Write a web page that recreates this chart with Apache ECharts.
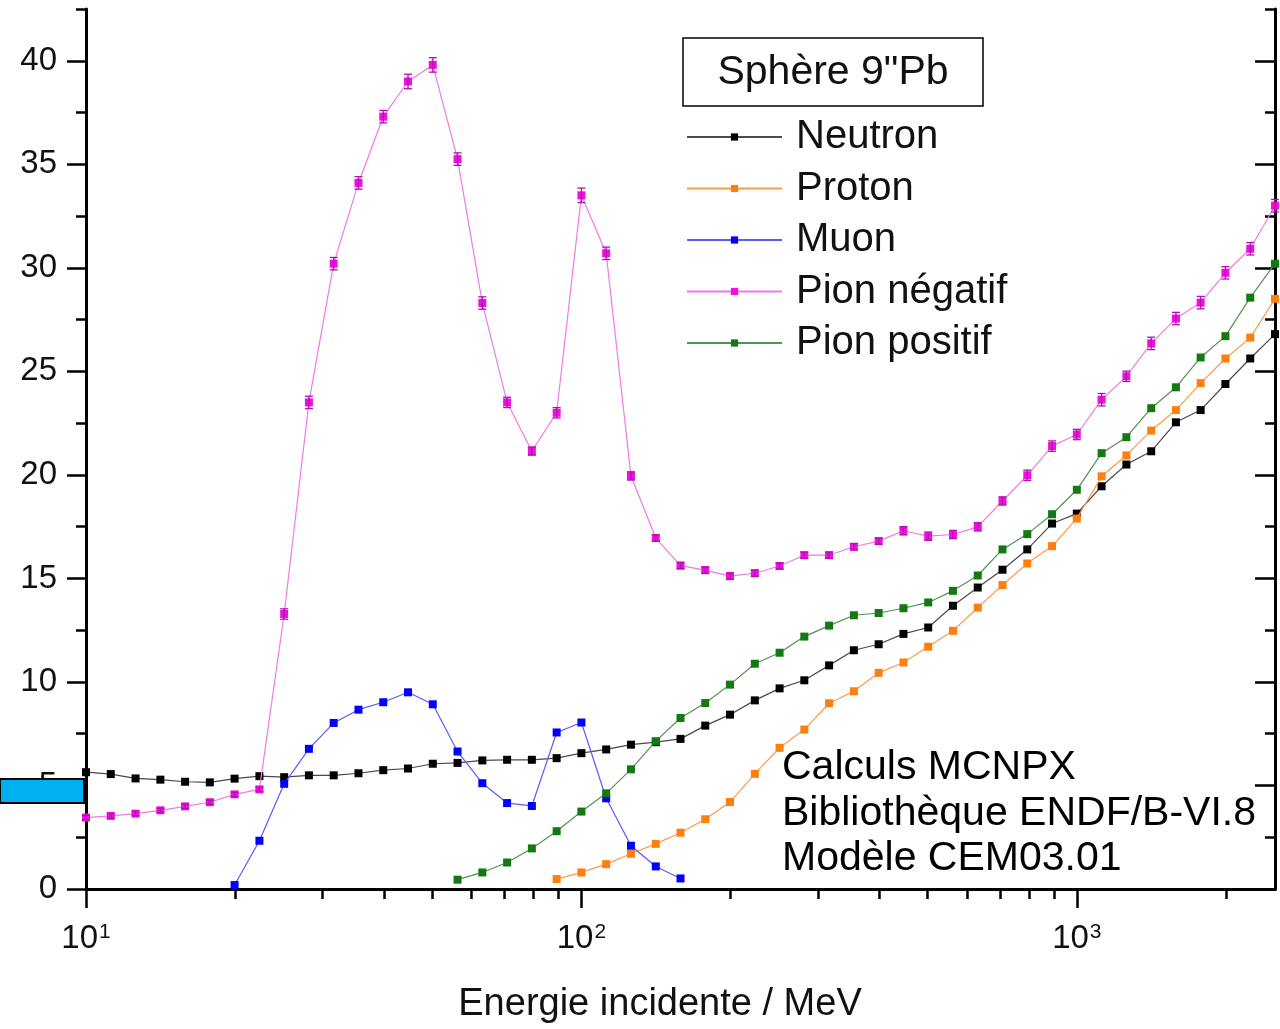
<!DOCTYPE html>
<html><head><meta charset="utf-8">
<script src="https://cdn.jsdelivr.net/npm/echarts@6/dist/echarts.min.js"></script>
<style>html,body{margin:0;padding:0;background:#fff}#c{width:1280px;height:1029px}</style>
</head><body><div id="c"></div>
<script>
// Incident energies (MeV), 20 points per decade
const energies = [10, 11.22, 12.59, 14.13, 15.85, 17.78, 19.95, 22.39, 25.12, 28.18,
  31.62, 35.48, 39.81, 44.67, 50.12, 56.23, 63.10, 70.79, 79.43, 89.13,
  100, 112.2, 125.9, 141.3, 158.5, 177.8, 199.5, 223.9, 251.2, 281.8,
  316.2, 354.8, 398.1, 446.7, 501.2, 562.3, 631.0, 707.9, 794.3, 891.3,
  1000, 1122, 1259, 1413, 1585, 1778, 1995, 2239, 2512];

const neutron = [5.64, 5.55, 5.34, 5.28, 5.18, 5.15, 5.33, 5.45, 5.40, 5.49,
  5.49, 5.59, 5.74, 5.82, 6.05, 6.09, 6.21, 6.24, 6.24, 6.32,
  6.56, 6.74, 6.97, 7.09, 7.25, 7.89, 8.42, 9.11, 9.69, 10.08,
  10.80, 11.53, 11.82, 12.32, 12.63, 13.68, 14.56, 15.42, 16.40, 17.65,
  18.13, 19.45, 20.50, 21.14, 22.54, 23.13, 24.39, 25.62, 26.80];

const proton = [null, null, null, null, null, null, null, null, null, null,
  null, null, null, null, null, null, null, null, null, 0.48,
  0.80, 1.20, 1.70, 2.18, 2.72, 3.37, 4.20, 5.56, 6.82, 7.70,
  8.97, 9.55, 10.44, 10.94, 11.70, 12.47, 13.59, 14.68, 15.72, 16.56,
  17.89, 19.93, 20.94, 22.14, 23.13, 24.43, 25.62, 26.63, 28.50];

const muon = [null, null, null, null, null, null, 0.19, 2.33, 5.08, 6.77,
  8.02, 8.66, 9.02, 9.50, 8.92, 6.64, 5.11, 4.15, 4.01, 7.56,
  8.04, 4.38, 2.09, 1.09, 0.51, null, null, null, null, null,
  null, null, null, null, null, null, null, null, null, null,
  null, null, null, null, null, null, null, null, null];

const pionNeg = [3.45, 3.53, 3.64, 3.80, 3.99, 4.19, 4.57, 4.81, 13.28, 23.50,
  30.20, 34.10, 37.30, 39.00, 39.80, 35.25, 28.30, 23.50, 21.15, 23.00,
  33.50, 30.70, 19.95, 16.95, 15.62, 15.40, 15.11, 15.25, 15.60, 16.12,
  16.12, 16.53, 16.80, 17.30, 17.04, 17.12, 17.49, 18.74, 19.98, 21.39,
  21.95, 23.63, 24.76, 26.35, 27.55, 28.32, 29.76, 30.92, 33.00];

const pionNegErr = [0.1, 0.1, 0.1, 0.1, 0.1, 0.1, 0.1, 0.1, 0.25, 0.3,
  0.3, 0.3, 0.3, 0.35, 0.35, 0.3, 0.3, 0.25, 0.2, 0.25,
  0.35, 0.3, 0.2, 0.15, 0.15, 0.15, 0.15, 0.15, 0.15, 0.15,
  0.15, 0.15, 0.15, 0.2, 0.2, 0.2, 0.2, 0.2, 0.25, 0.25,
  0.25, 0.3, 0.25, 0.3, 0.3, 0.3, 0.3, 0.3, 0.3];

const pionPos = [null, null, null, null, null, null, null, null, null, null,
  null, null, null, null, null, 0.45, 0.80, 1.28, 1.96, 2.79,
  3.74, 4.62, 5.78, 7.14, 8.26, 8.98, 9.87, 10.88, 11.41, 12.19,
  12.72, 13.22, 13.33, 13.56, 13.84, 14.40, 15.14, 16.40, 17.14, 18.10,
  19.28, 21.05, 21.82, 23.22, 24.23, 25.67, 26.70, 28.56, 30.20];

const seriesNames = ['Neutron', 'Proton', 'Muon', 'Pion négatif', 'Pion positif'];
const xMajorTicks = [10, 100, 1000];
const xMinorTicks = [20, 30, 40, 50, 60, 70, 80, 90, 200, 300, 400, 500, 600, 700, 800, 900, 2000];
const yMajorTicks = [0, 5, 10, 15, 20, 25, 30, 35, 40];
const yMinorTicks = [2.5, 7.5, 12.5, 17.5, 22.5, 27.5, 32.5, 37.5, 42.5];
const legendTitle = 'Sphère 9"Pb';
const noteLines = ['Calculs MCNPX', 'Bibliothèque ENDF/B-VI.8', 'Modèle CEM03.01'];
const xName = 'Energie incidente / MeV';

const FONT = 'Liberation Sans, Arial, Helvetica, sans-serif';
function pairs(arr) {
  const out = [];
  arr.forEach((v, i) => { if (v != null) out.push([energies[i], v]); });
  return out;
}

const styles = [
  { marker: '#000000', line: '#4a4a4a' },
  { marker: '#ff7f0e', line: '#ff9a4d' },
  { marker: '#0000ff', line: '#5a5aff' },
  { marker: '#ee11dd', line: '#f07ae8' },
  { marker: '#137a13', line: '#4f944f' }
];
const dataSets = [neutron, proton, muon, pionNeg, pionPos];

const X_MIN = 10, X_MAX = 2512, Y_MIN = 0, Y_MAX = 42.5;
const lineAx = { show: true, lineStyle: { color: '#000', width: 3 } };

function xAxisBase(pos) {
  return { type: 'log', logBase: 10, min: X_MIN, max: X_MAX, position: pos,
    splitLine: { show: false }, axisLabel: { show: false }, axisLine: { show: false },
    axisTick: { show: false } };
}
function yAxisBase(pos) {
  return { type: 'value', min: Y_MIN, max: Y_MAX, position: pos,
    splitLine: { show: false }, axisLabel: { show: false }, axisLine: { show: false },
    axisTick: { show: false } };
}

const xAxes = [
  Object.assign(xAxisBase('bottom'), {
    axisLine: lineAx,
    axisTick: { show: true, customValues: xMajorTicks, length: 19, inside: false, lineStyle: { color: '#000', width: 2.5 } },
    axisLabel: { show: true, customValues: xMajorTicks, margin: 33,
      formatter: v => '{b|10}{s|' + Math.round(Math.log10(v)) + '}',
      rich: { b: { fontSize: 33, fontFamily: FONT, color: '#111', lineHeight: 34, verticalAlign: 'top' },
              s: { fontSize: 21, fontFamily: FONT, color: '#111', lineHeight: 34, verticalAlign: 'top', padding: [0, 0, 0, 1] } } },
    name: xName, nameLocation: 'middle', nameGap: 97,
    nameTextStyle: { fontSize: 38, fontFamily: FONT, color: '#111', padding: [0, 41, 0, 0] }
  }),
  Object.assign(xAxisBase('bottom'), {
    axisTick: { show: true, customValues: xMinorTicks, length: 10, inside: false, lineStyle: { color: '#000', width: 2.5 } }
  }),
  Object.assign(xAxisBase('top'), {
    axisLine: lineAx,
    axisTick: { show: true, customValues: [100, 1000], length: 16, inside: true, lineStyle: { color: '#000', width: 2.5 } }
  }),
  Object.assign(xAxisBase('top'), {
    axisTick: { show: true, customValues: xMinorTicks, length: 8, inside: true, lineStyle: { color: '#000', width: 2.5 } }
  })
];

const yAxes = [
  Object.assign(yAxisBase('left'), {
    axisLine: lineAx,
    axisTick: { show: true, customValues: yMajorTicks, length: 19, inside: false, lineStyle: { color: '#000', width: 2.5 } },
    axisLabel: { show: true, customValues: yMajorTicks, margin: 29, fontSize: 33, fontFamily: FONT, color: '#111' }
  }),
  Object.assign(yAxisBase('left'), {
    axisTick: { show: true, customValues: yMinorTicks, length: 10, inside: false, lineStyle: { color: '#000', width: 2.5 } }
  }),
  Object.assign(yAxisBase('right'), {
    axisLine: lineAx,
    axisTick: { show: true, customValues: yMajorTicks, length: 20, inside: true, lineStyle: { color: '#000', width: 2.5 } }
  }),
  Object.assign(yAxisBase('right'), {
    axisTick: { show: true, customValues: yMinorTicks, length: 10, inside: true, lineStyle: { color: '#000', width: 2.5 } }
  })
];

const series = seriesNames.map((name, k) => ({
  name, type: 'line', xAxisIndex: 0, yAxisIndex: 0,
  data: pairs(dataSets[k]),
  symbol: 'rect', symbolSize: 8, showSymbol: true,
  itemStyle: { color: styles[k].marker },
  lineStyle: { color: styles[k].line, width: 1.2 },
  emphasis: { disabled: true }, animation: false, z: 3 + k
}));

series.push({
  type: 'custom', name: 'err', xAxisIndex: 0, yAxisIndex: 0, silent: true, animation: false, z: 7,
  data: pionNeg.map((v, i) => [energies[i], v, pionNegErr[i]]),
  encode: { x: 0, y: 1 },
  renderItem: (params, api) => {
    const x = api.value(0), y = api.value(1), e = api.value(2);
    const t = api.coord([x, y + e]), b = api.coord([x, y - e]);
    const hw = 4, st = { stroke: '#b010b0', lineWidth: 1.3 };
    return { type: 'group', children: [
      { type: 'line', shape: { x1: t[0], y1: t[1], x2: b[0], y2: b[1] }, style: st },
      { type: 'line', shape: { x1: t[0] - hw, y1: t[1], x2: t[0] + hw, y2: t[1] }, style: st },
      { type: 'line', shape: { x1: b[0] - hw, y1: b[1], x2: b[0] + hw, y2: b[1] }, style: st }
    ] };
  }
});

const chart = echarts.init(document.getElementById('c'), null, { renderer: 'canvas' });
chart.setOption({
  animation: false,
  backgroundColor: '#fff',
  grid: { left: 86, right: 5, top: 9, bottom: 138, containLabel: false },
  xAxis: xAxes,
  yAxis: yAxes,
  legend: {
    data: seriesNames, orient: 'vertical', left: 686, top: 115, padding: 0,
    itemWidth: 95, itemHeight: 9, itemGap: 7.5,
    textStyle: { fontSize: 40, fontFamily: FONT, color: '#111', lineHeight: 44, padding: [0, 0, 0, 9] },
    selectedMode: false
  },
  graphic: [
    { type: 'rect', shape: { x: 683, y: 38, width: 300, height: 68 },
      style: { fill: '#fff', stroke: '#000', lineWidth: 1.5 }, z: 100 },
    { type: 'text', x: 833, y: 73, z: 101,
      style: { text: legendTitle, font: '41px ' + FONT, fill: '#111', textAlign: 'center', textVerticalAlign: 'middle' } },
    { type: 'text', x: 782, y: 745, z: 101,
      style: { text: noteLines.join('\n'), font: '41px ' + FONT, fill: '#000', lineHeight: 45.5, textAlign: 'left', textVerticalAlign: 'top' } },
    { type: 'rect', shape: { x: 0, y: 779, width: 84, height: 24 },
      style: { fill: '#00b0f0', stroke: '#000', lineWidth: 2 }, z: 100 }
  ],
  series
});
</script></body></html>
